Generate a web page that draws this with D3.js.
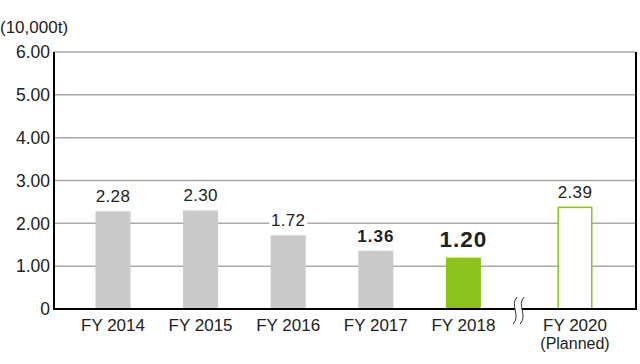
<!DOCTYPE html>
<html>
<head>
<meta charset="utf-8">
<script src="https://cdn.jsdelivr.net/npm/d3@7"></script>
<style>
  body { margin: 0; background: #fff; }
  svg { display: block; }
  text { font-family: "Liberation Sans", Arial, sans-serif; fill: #222; }
</style>
</head>
<body>
<svg id="chart" width="640" height="364"></svg>
<script>
const categories = ['FY 2014', 'FY 2015', 'FY 2016', 'FY 2017', 'FY 2018', 'FY 2020'];
const subLabels = ['', '', '', '', '', '(Planned)'];
const values = [2.28, 2.30, 1.72, 1.36, 1.20, 2.39];
const yTicks = [0, 1, 2, 3, 4, 5, 6];
const unitLabel = '(10,000t)';

(function() {
const svg = d3.select('#chart');
const left = 54, right = 636, plotTop = 52, bottom = 309;
const breakGap = 24;
const numFont = 'Lato, "Open Sans", sans-serif';

const x = d3.scaleBand()
  .domain(categories)
  .range([69.2, 594.8])
  .paddingInner(0.6)
  .paddingOuter(0.3);
const y = d3.scaleLinear().domain([0, 6]).range([bottom, plotTop]);

// shift the planned bar past the axis break
const last = categories.length - 1;
const xPos = (d, i) => x(d) + (i === last ? breakGap : 0);

// gridlines
svg.append('g')
  .selectAll('line')
  .data(yTicks.slice(1))
  .enter()
  .append('line')
  .attr('x1', left).attr('x2', right)
  .attr('y1', d => y(d)).attr('y2', d => y(d))
  .attr('stroke', '#aaaaaa')
  .attr('stroke-width', 1.5);

// y tick labels
svg.append('g')
  .selectAll('text')
  .data(yTicks)
  .enter()
  .append('text')
  .attr('x', 50)
  .attr('y', d => y(d))
  .attr('dy', '0.36em')
  .attr('text-anchor', 'end')
  .attr('font-size', 17.5)
  .attr('font-family', numFont)
  .text(d => d === 0 ? '0' : d3.format('.2f')(d));

svg.append('text')
  .attr('x', 0).attr('y', 33)
  .attr('font-size', 17)
  .attr('font-family', numFont)
  .text(unitLabel);

// bars
svg.append('g')
  .selectAll('rect')
  .data(categories)
  .enter()
  .append('rect')
  .attr('x', (d, i) => xPos(d, i) + (i === last ? 0.75 : 0))
  .attr('y', (d, i) => y(values[i]) + (i === last ? 0.75 : 0))
  .attr('width', (d, i) => x.bandwidth() - (i === last ? 1.5 : 0))
  .attr('height', (d, i) => bottom - y(values[i]) - (i === last ? 0.75 : 0))
  .attr('fill', (d, i) => i === last ? '#fff' : (i === 4 ? '#8dc21f' : '#c9cac9'))
  .attr('stroke', (d, i) => i === last ? '#8dc21f' : 'none')
  .attr('stroke-width', 1.5);

// value labels
svg.append('g')
  .selectAll('text')
  .data(categories)
  .enter()
  .append('text')
  .attr('x', (d, i) => xPos(d, i) + x.bandwidth() / 2)
  .attr('y', (d, i) => y(values[i]) - (i === 4 ? 11 : 9))
  .attr('text-anchor', 'middle')
  .attr('font-family', numFont)
  .attr('font-size', (d, i) => i === 4 ? 22.5 : 17)
  .attr('font-weight', (d, i) => i === 4 ? 'bold' : (i === 3 ? 600 : 'normal'))
  .attr('letter-spacing', (d, i) => i >= 3 && i <= 4 ? 1 : 0.3)
  .attr('stroke', (d, i) => i === 2 ? '#fff' : 'none')
  .attr('stroke-width', 6)
  .attr('paint-order', 'stroke')
  .text((d, i) => d3.format('.2f')(values[i]));

// axes frame
svg.append('line')
  .attr('x1', left).attr('x2', left)
  .attr('y1', plotTop).attr('y2', bottom + 1)
  .attr('stroke', '#000').attr('stroke-width', 2);
svg.append('line')
  .attr('x1', right).attr('x2', right)
  .attr('y1', plotTop).attr('y2', bottom + 1)
  .attr('stroke', '#000').attr('stroke-width', 2);
svg.append('line')
  .attr('x1', left - 1).attr('x2', right + 1)
  .attr('y1', bottom).attr('y2', bottom)
  .attr('stroke', '#000').attr('stroke-width', 2);

// axis break mark
const bx = (x(categories[4]) + x.bandwidth() + xPos(categories[last], last)) / 2 - 1;
const t = bottom - 12, b = bottom + 15;
const wave = dx => `M${bx + dx + 2},${t} C${bx + dx - 6},${t + 8} ${bx + dx + 6},${b - 9} ${bx + dx - 2},${b}`;
svg.append('path')
  .attr('d', `M${bx - 1},${t} C${bx - 9},${t + 8} ${bx + 3},${b - 9} ${bx - 5},${b} L${bx + 2},${b} C${bx + 10},${b - 9} ${bx - 2},${t + 8} ${bx + 6},${t} Z`)
  .attr('fill', '#fff');
[-3, 4].forEach(dx => {
  svg.append('path')
    .attr('d', wave(dx))
    .attr('fill', 'none')
    .attr('stroke', '#333')
    .attr('stroke-width', 1);
});

// x labels
svg.append('g')
  .selectAll('text')
  .data(categories)
  .enter()
  .append('text')
  .attr('x', (d, i) => xPos(d, i) + x.bandwidth() / 2)
  .attr('y', 331)
  .attr('text-anchor', 'middle')
  .attr('font-size', 17)
  .text(d => d);
svg.append('g')
  .selectAll('text')
  .data(categories.filter((d, i) => subLabels[i]))
  .enter()
  .append('text')
  .attr('x', d => xPos(d, categories.indexOf(d)) + x.bandwidth() / 2)
  .attr('y', 349)
  .attr('text-anchor', 'middle')
  .attr('font-size', 16)
  .text(d => subLabels[categories.indexOf(d)]);
})();
</script>
</body>
</html>
